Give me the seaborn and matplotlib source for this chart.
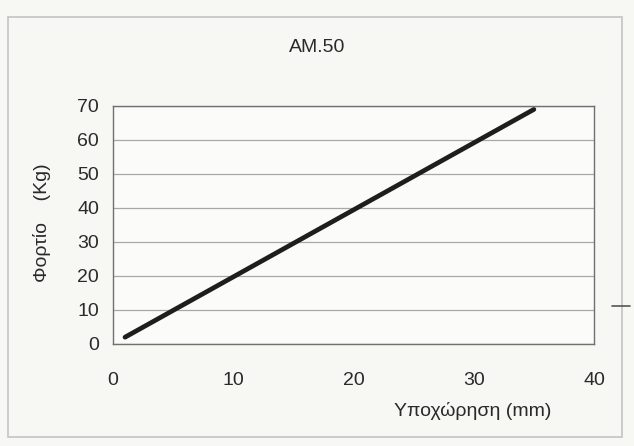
import matplotlib
matplotlib.use("Agg")
import matplotlib.pyplot as plt
import seaborn as sns
import pandas as pd
from matplotlib.patches import Rectangle
from matplotlib.lines import Line2D

# Data
displacement_mm = [1, 35]
load_kg = [2, 69]
x_ticks = [0, 10, 20, 30, 40]
y_ticks = [0, 10, 20, 30, 40, 50, 60, 70]
title = "AM.50"
x_label = "Υποχώρηση (mm)"
y_label = "Φορτίο    (Kg)"

sns.set_theme(style="white")
plt.rcParams['font.family'] = ['Liberation Sans', 'DejaVu Sans']

df = pd.DataFrame({"x": displacement_mm, "y": load_kg})

W, H = 634, 446
fig = plt.figure(figsize=(W / 100, H / 100), dpi=100, facecolor="#f7f7f4")
L, R, T, B = 113, 594, 106, 344
ax = fig.add_axes([L / W, 1 - B / H, (R - L) / W, (B - T) / H])
ax.set_facecolor("#fbfbf9")

sns.lineplot(data=df, x="x", y="y", ax=ax, color="#1e1e1e", linewidth=3.4,
             solid_capstyle="round")

ax.set_xlim(0, 40)
ax.set_ylim(0, 70)
ax.set_xticks(x_ticks)
ax.set_yticks(y_ticks)
ax.yaxis.grid(True, color="#a8a8a8", linewidth=0.9)
ax.xaxis.grid(False)
for s in ax.spines.values():
    s.set_color("#707070")
    s.set_linewidth(1.0)
ax.tick_params(axis="both", which="both", direction="out", length=4,
               width=0.9, color="#707070", labelsize=14, labelcolor="#2a2a2a")
ax.tick_params(axis="x", pad=16)
ax.tick_params(axis="y", pad=6)
ax.set_xlabel("")
ax.set_ylabel("")

fig.text(317 / W, 1 - 47 / H, title, ha="center", va="center", fontsize=14,
         color="#2a2a2a")
fig.text(473 / W, 1 - 411 / H, x_label, ha="center", va="center",
         fontsize=14, color="#2a2a2a")
fig.text(42 / W, 1 - 223 / H, y_label, ha="center", va="center",
         fontsize=14, color="#2a2a2a", rotation=90)

# outer chart-area frame
fig.patches.append(Rectangle((8 / W, 1 - 437 / H), (622 - 8) / W, (437 - 17) / H,
                             transform=fig.transFigure, fill=False,
                             edgecolor="#c4c4c4", linewidth=1.2))
fig.lines.append(Line2D([612 / W, 630 / W], [1 - 306 / H, 1 - 306 / H],
                        transform=fig.transFigure, color="#555555", linewidth=1.2))

fig.savefig("out.png", dpi=100, facecolor=fig.get_facecolor())
